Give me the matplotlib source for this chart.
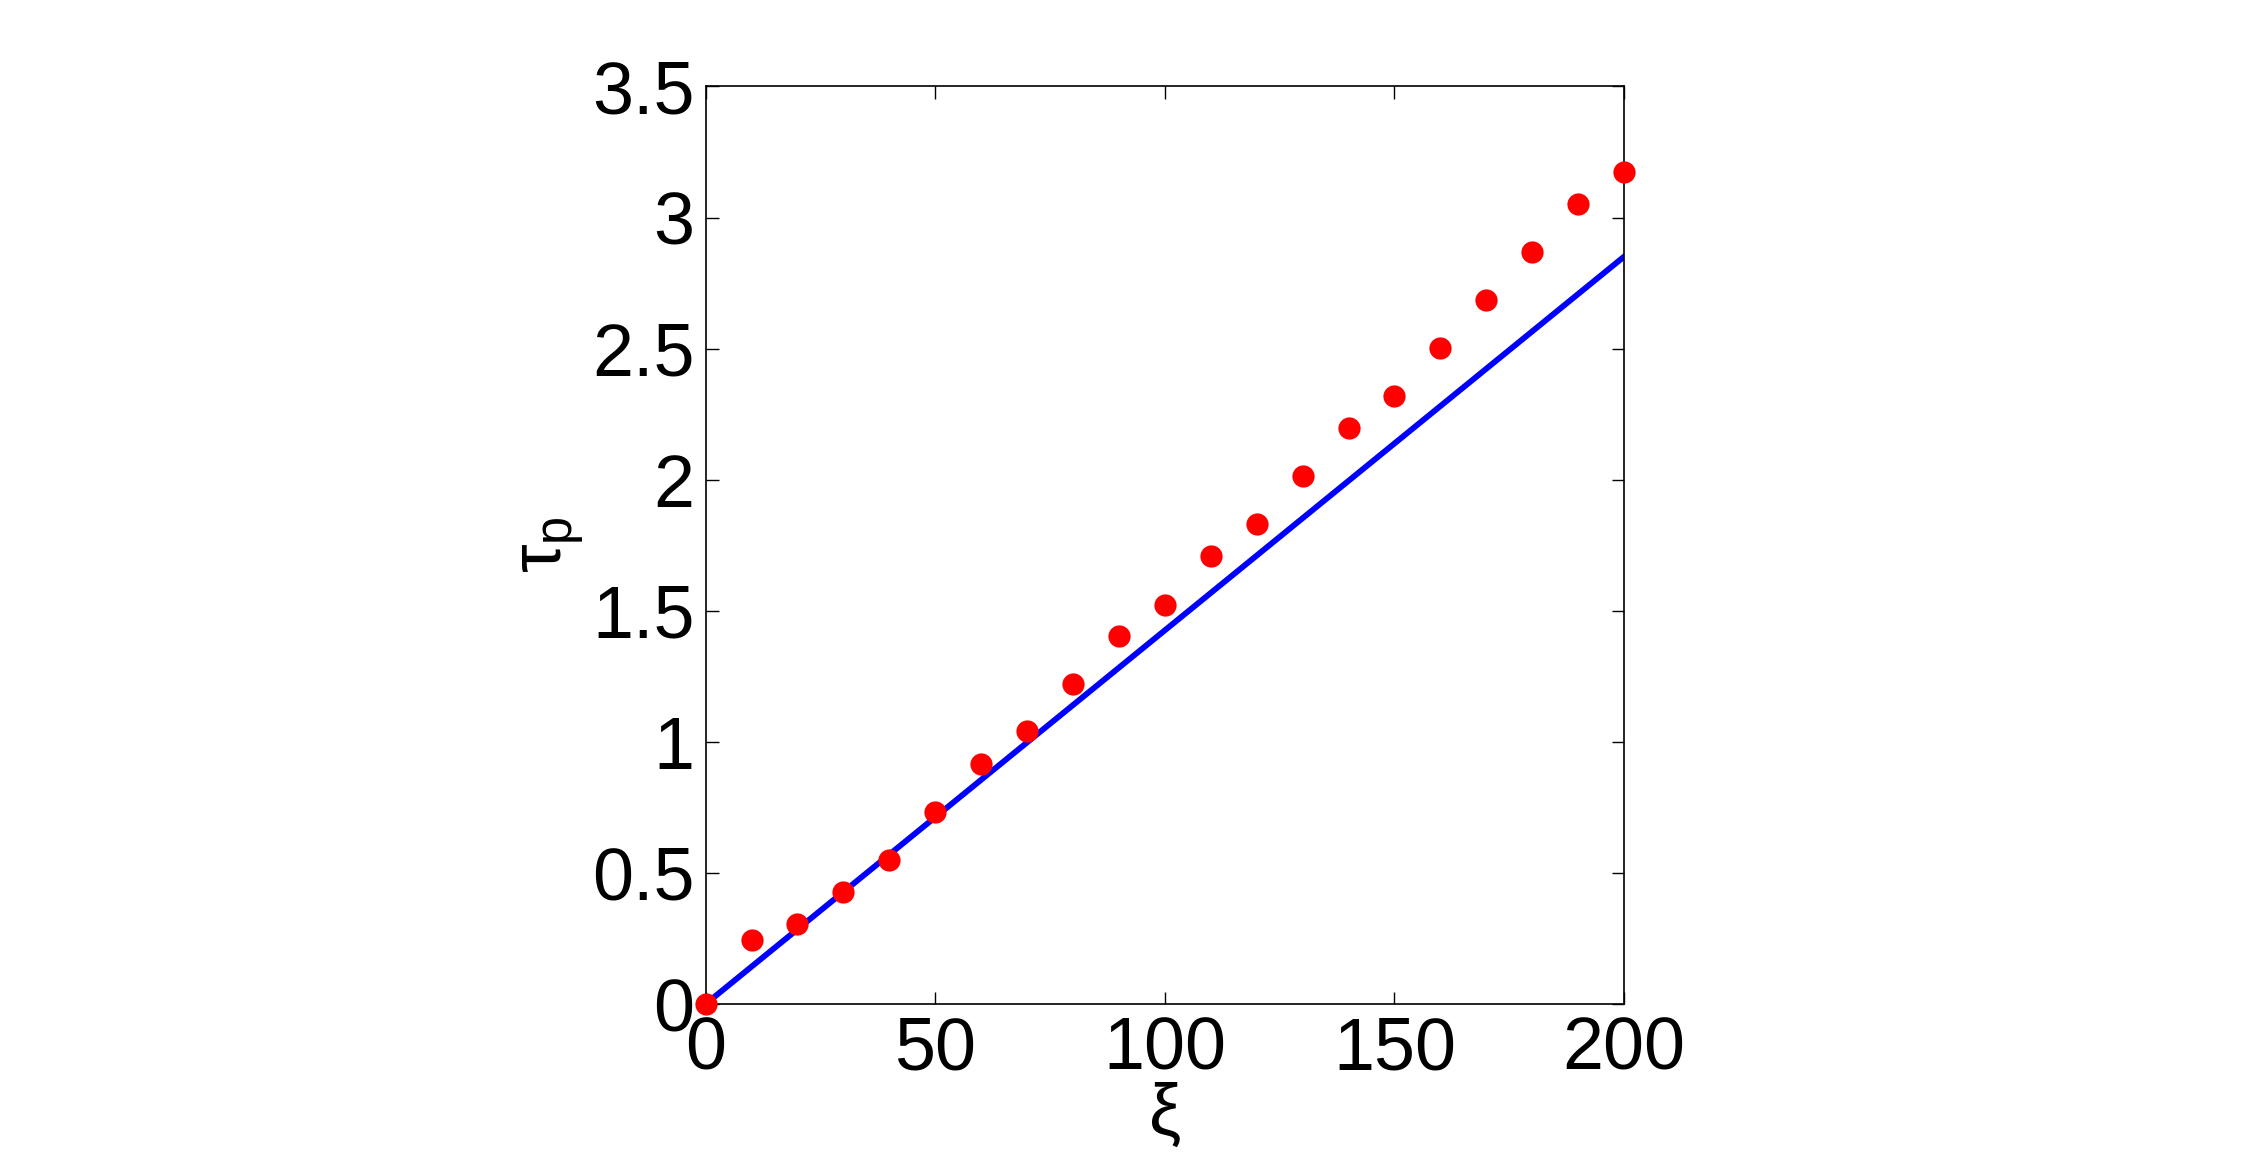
import numpy as np
import matplotlib
matplotlib.use("Agg")
import matplotlib.pyplot as plt

# measured points (red dots)
xi = [0, 10, 20, 30, 40, 50, 60, 70, 80, 90, 100,
      110, 120, 130, 140, 150, 160, 170, 180, 190, 200]
tau = [0.0, 0.244, 0.305, 0.427, 0.549, 0.733, 0.916, 1.040, 1.221, 1.404, 1.524,
       1.709, 1.831, 2.015, 2.198, 2.320, 2.503, 2.686, 2.869, 3.052, 3.174]

# linear fit (blue line)
fit_x = [0, 200]
fit_y = [0.0, 2.851]

xticks = [0, 50, 100, 150, 200]
yticks = [0, 0.5, 1, 1.5, 2, 2.5, 3, 3.5]
yticklabels = ["0", "0.5", "1", "1.5", "2", "2.5", "3", "3.5"]

plt.rcParams["font.family"] = ["Liberation Sans", "DejaVu Sans"]
plt.rcParams["mathtext.fontset"] = "custom"
plt.rcParams["mathtext.rm"] = "Liberation Sans"
plt.rcParams["mathtext.it"] = "Liberation Sans"

fig = plt.figure(figsize=(22.5, 11.61), dpi=100)
ax = fig.add_axes([0.3136, 0.1352, 0.4082, 0.7903])

ax.plot(fit_x, fit_y, color="#0000ff", lw=4.2, zorder=2)
ax.plot(xi, tau, "o", color="#ff0000", ms=16, mec="none", zorder=3, clip_on=False)

ax.set_xlim(0, 200)
ax.set_ylim(0, 3.5)
ax.set_xticks(xticks)
ax.set_xticklabels([str(t) for t in xticks])
ax.set_yticks(yticks)
ax.set_yticklabels(yticklabels)
ax.tick_params(direction="in", length=9, width=1, top=True, right=True,
               labelsize=53, pad=8)
for s in ax.spines.values():
    s.set_linewidth(1.2)

ax.set_xlabel(r"$\xi$", fontsize=52, labelpad=-2)
ax.set_ylabel(r"$\tau_{\mathrm{p}}$", fontsize=52, labelpad=4)

fig.savefig("out.png", dpi=100, facecolor="white")
